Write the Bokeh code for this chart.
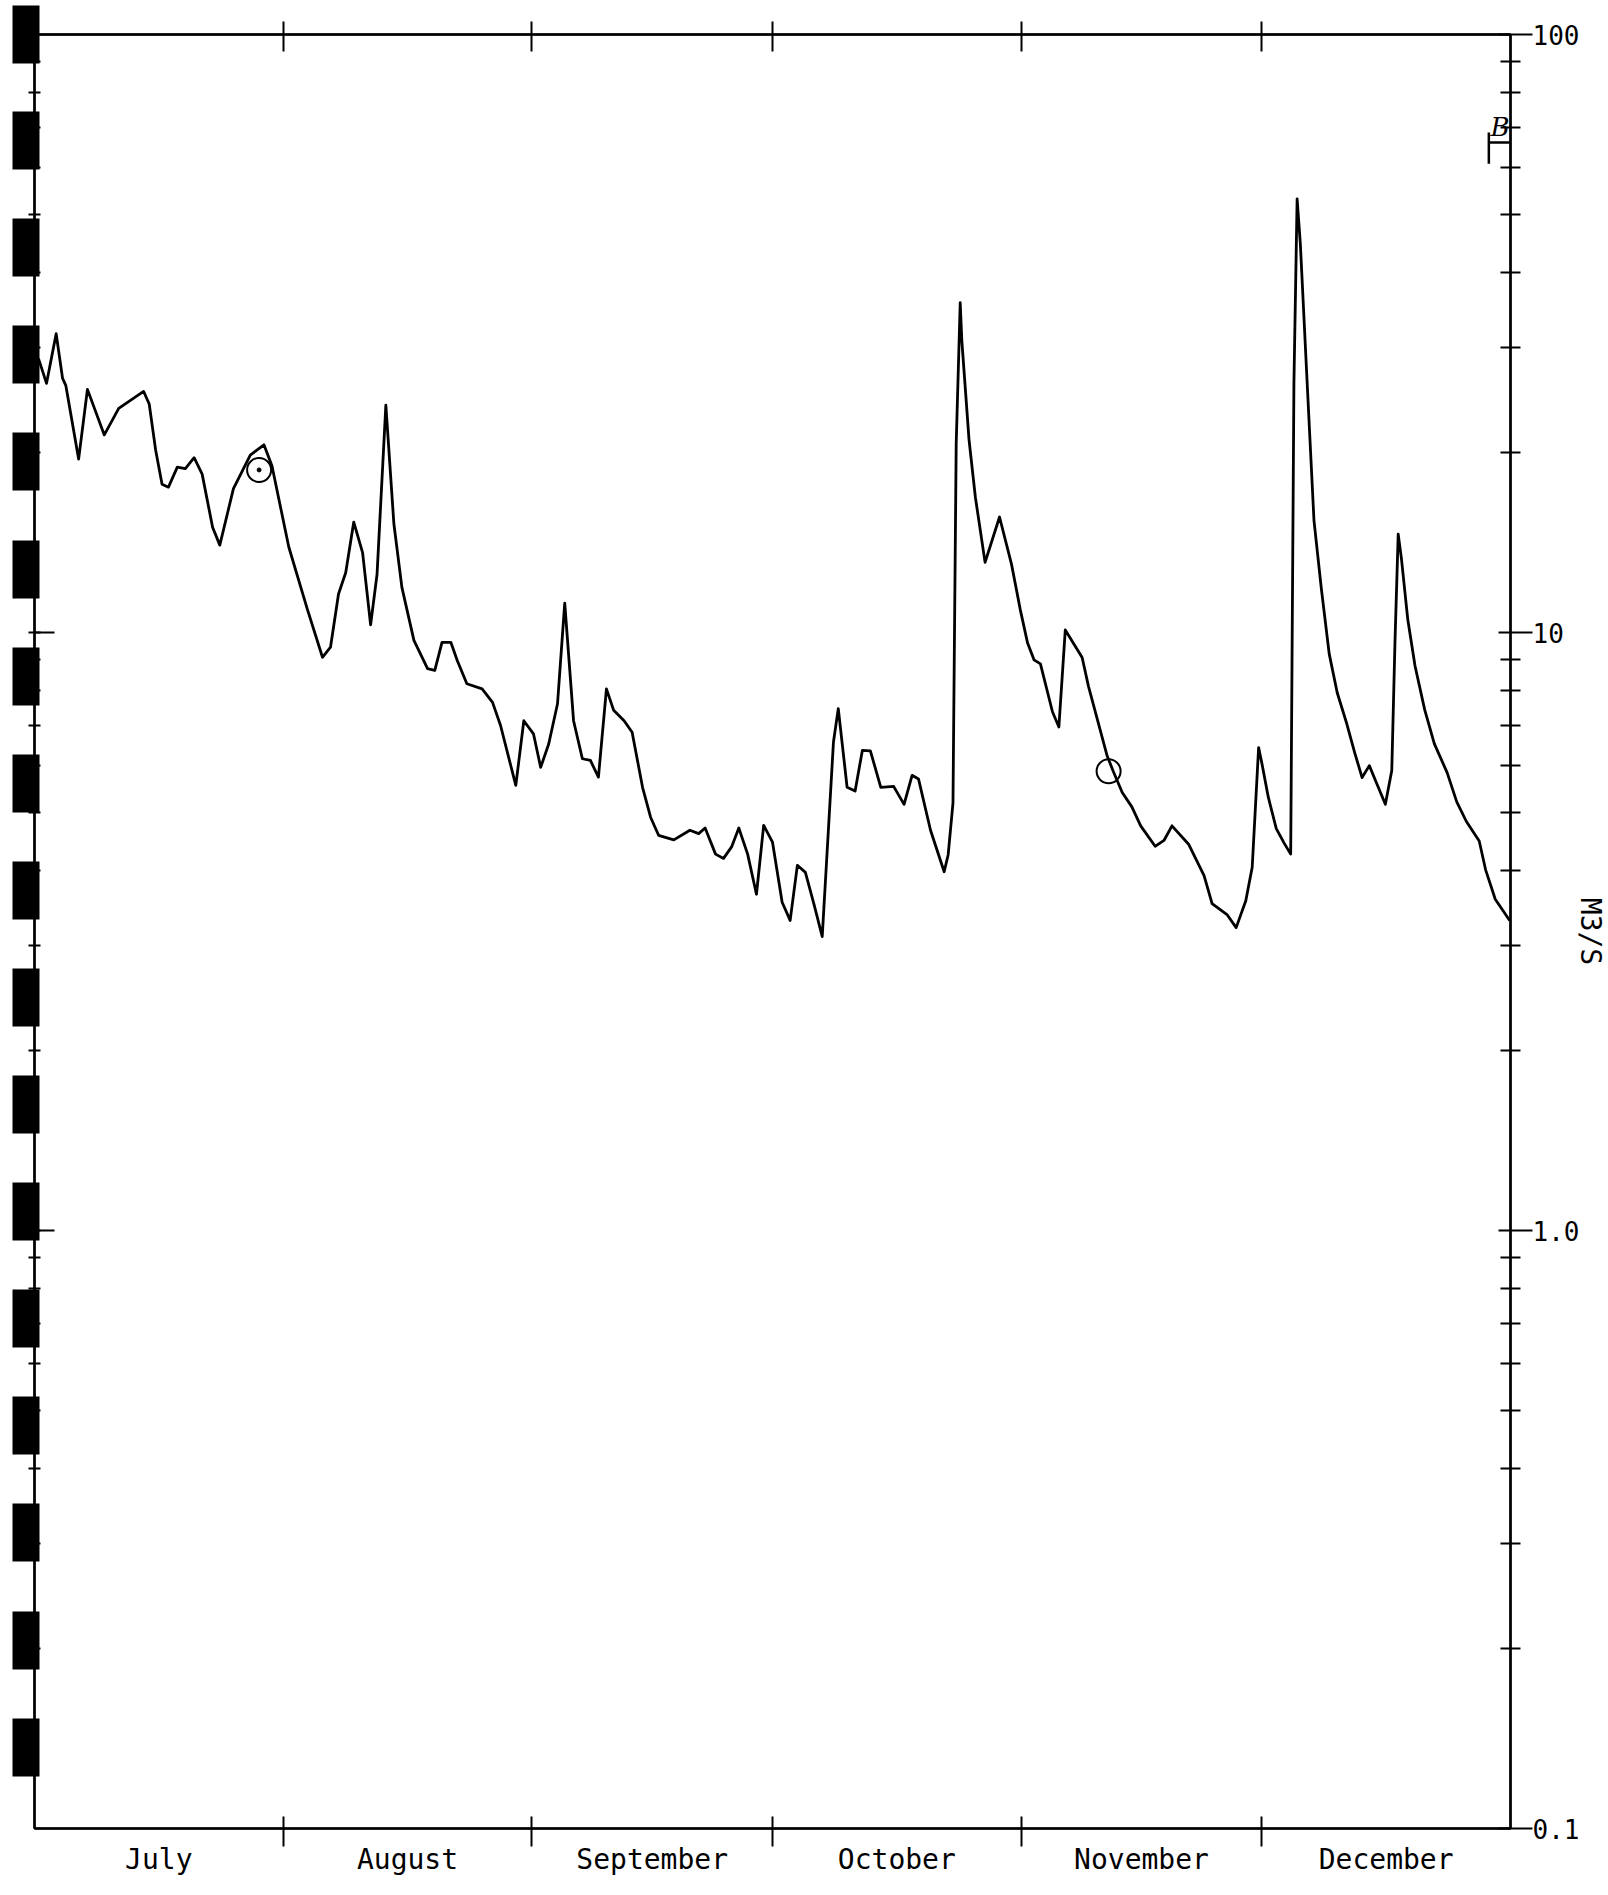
from bokeh.plotting import figure
from bokeh.models import (LogAxis, LinearAxis, FixedTicker, Range1d, Label,
                          CustomJSTickFormatter)
from bokeh.embed import file_html
from bokeh.resources import INLINE

# ---------------- data ----------------
months = ["July", "August", "September", "October", "November", "December"]
month_days = [31, 31, 30, 31, 30, 31]

# day since 1 July (0 = start of July), daily mean discharge in m3/s
day = [
    0.5, 1.5, 2.7, 3.5, 3.9, 5.5, 6.6, 8.7, 10.5, 13.6,
    14.3, 15.1, 15.9, 16.7, 17.8, 18.8, 19.9, 20.9, 22.2, 23.1,
    24.8, 26.9, 28.6, 29.6, 31.7, 34.0, 35.9, 36.9, 37.9, 38.8,
    39.8, 40.9, 41.9, 42.7, 43.8, 44.8, 45.8, 47.3, 49.0, 49.9,
    50.8, 51.9, 52.7, 53.9, 55.8, 57.1, 58.1, 60.0, 61.0, 62.2,
    63.1, 64.1, 65.2, 66.1, 67.2, 68.3, 69.3, 70.3, 71.3, 72.2,
    73.5, 74.5, 75.8, 76.8, 77.8, 79.7, 81.7, 82.8, 83.6, 84.9,
    85.9, 86.9, 87.8, 88.9, 90.0, 90.9, 92.0, 93.2, 94.2, 95.1,
    96.1, 97.2, 98.2, 99.6, 100.2, 101.3, 102.3, 103.2, 104.2, 105.5,
    107.1, 108.4, 109.4, 110.2, 111.7, 113.4, 113.9, 114.5, 114.9, 115.4,
    115.6, 116.5, 117.3, 118.5, 120.3, 121.8, 122.9, 123.8, 124.6, 125.4,
    126.9, 127.7, 128.5, 130.6, 131.4, 133.7, 134.5, 135.6, 136.8, 137.9,
    139.7, 140.8, 141.8, 143.9, 145.8, 146.8, 148.7, 149.8, 151.0, 151.8,
    152.6, 153.0, 153.8, 154.8, 155.8, 156.6, 157.0, 157.4, 157.8, 158.6,
    159.5, 160.4, 161.4, 162.4, 163.6, 164.6, 165.5, 166.4, 167.4, 168.4,
    169.2, 169.6, 170.0, 170.4, 171.2, 172.1, 173.3, 174.5, 176.1, 177.3,
    178.5, 180.1, 180.9, 182.1, 183.9,
]
flow = [
    28.7, 26.1, 31.6, 26.6, 25.9, 19.5, 25.5, 21.4, 23.7, 25.3,
    24.1, 20.2, 17.7, 17.5, 18.9, 18.8, 19.6, 18.4, 15.0, 14.0,
    17.4, 19.8, 20.6, 19.0, 13.9, 10.95, 9.09, 9.45, 11.6, 12.6,
    15.3, 13.6, 10.3, 12.5, 24.0, 15.2, 11.9, 9.70, 8.70, 8.64,
    9.63, 9.63, 8.98, 8.21, 8.05, 7.64, 6.99, 5.55, 7.12, 6.77,
    5.95, 6.51, 7.60, 11.2, 7.12, 6.15, 6.11, 5.73, 8.05, 7.41,
    7.12, 6.81, 5.51, 4.91, 4.58, 4.50, 4.67, 4.61, 4.71, 4.26,
    4.19, 4.38, 4.71, 4.26, 3.65, 4.76, 4.46, 3.54, 3.30, 4.08,
    3.97, 3.50, 3.10, 6.56, 7.46, 5.51, 5.43, 6.35, 6.34, 5.51,
    5.53, 5.16, 5.77, 5.69, 4.67, 3.98, 4.25, 5.19, 20.7, 35.6,
    30.8, 21.0, 16.8, 13.1, 15.6, 13.0, 10.9, 9.60, 9.00, 8.86,
    7.37, 6.95, 10.1, 9.08, 8.12, 6.23, 5.85, 5.40, 5.11, 4.75,
    4.39, 4.49, 4.75, 4.42, 3.92, 3.52, 3.37, 3.21, 3.56, 4.05,
    6.42, 6.05, 5.31, 4.70, 4.44, 4.26, 26.0, 53.1, 44.7, 27.0,
    15.4, 11.9, 9.21, 7.93, 7.03, 6.28, 5.72, 5.99, 5.56, 5.16,
    5.88, 9.65, 14.6, 13.3, 10.5, 8.79, 7.43, 6.52, 5.83, 5.21,
    4.83, 4.48, 4.01, 3.58, 3.30,
]
assert len(day) == len(flow)

decade_ticks = [0.1, 1.0, 10.0, 100.0]
decade_labels = ["0.1", "1.0", "10", "100"]

# hand-drawn pen marks on the sheet
mark_day = [28.0, 133.9]
mark_flow = [18.7, 5.86]
note_text = "B"

# ---------------- derived tick positions ----------------
bounds = [0]
for n in month_days:
    bounds.append(bounds[-1] + n)
mids = [b + n / 2 for b, n in zip(bounds[:-1], month_days)]
log_minor = [m * 10.0 ** e for e in (-1, 0, 1) for m in range(1, 10) if m * 10.0 ** e > 0.1]

# ---------------- layout (pixels) ----------------
FRAME_W, FRAME_H = 1476, 1794
DECADE_PX = FRAME_H / 3.0
PX_PER_DAY = FRAME_W / bounds[-1]
# microfilm sprocket holes along the left margin of the scanned sheet,
# drawn as very wide tick strokes of the left axis
SPROCKET_PITCH, SPROCKET_H, SPROCKET_FIRST = 107.1, 58, -1.0
sprocket_at = []
for k in range(17):
    off = SPROCKET_FIRST + SPROCKET_PITCH * k          # px below frame top
    sprocket_at.append(min(100.0, 10 ** (2 - off / DECADE_PX)))

FONT = "DejaVu Sans Mono"

p = figure(frame_width=FRAME_W, frame_height=FRAME_H,
           x_range=Range1d(0, bounds[-1]), y_range=Range1d(0.1, 100),
           y_axis_type="log", x_axis_location=None, y_axis_location=None,
           toolbar_location=None, output_backend="svg",
           min_border_left=34, min_border_top=34, min_border_bottom=50,
           min_border_right=10,
           background_fill_color="white", border_fill_color="white")
p.xgrid.grid_line_color = None
p.ygrid.grid_line_color = None
p.outline_line_color = "black"
p.outline_line_width = 2

month_fmt = CustomJSTickFormatter(args=dict(mids=mids, names=months), code="""
    let best = 0;
    for (let i = 0; i < mids.length; i++) {
        if (Math.abs(mids[i] - tick) < Math.abs(mids[best] - tick)) best = i;
    }
    return names[best];
""")
decade_fmt = CustomJSTickFormatter(args=dict(vals=decade_ticks, names=decade_labels), code="""
    let best = 0;
    for (let i = 0; i < vals.length; i++) {
        if (Math.abs(Math.log10(vals[i]) - Math.log10(tick)) <
            Math.abs(Math.log10(vals[best]) - Math.log10(tick))) best = i;
    }
    return names[best];
""")
blank_fmt = CustomJSTickFormatter(code="return '';")

# bottom axis: month boundaries as crossing ticks, month names centred
xb = LinearAxis(ticker=FixedTicker(ticks=mids, minor_ticks=bounds[1:-1]),
                formatter=month_fmt,
                major_tick_line_color=None, major_tick_in=0, major_tick_out=0,
                minor_tick_in=12, minor_tick_out=18, minor_tick_line_width=2,
                minor_tick_line_color="black",
                axis_line_width=2.5, axis_line_color="black",
                major_label_text_font=FONT, major_label_text_font_size="28px",
                major_label_text_color="black", major_label_standoff=-4)
p.add_layout(xb, "below")

xt = LinearAxis(ticker=FixedTicker(ticks=[], minor_ticks=bounds[1:-1]),
                formatter=blank_fmt,
                major_tick_line_color=None, major_tick_out=0, major_tick_in=0,
                minor_tick_in=17, minor_tick_out=13, minor_tick_line_width=2,
                minor_tick_line_color="black",
                axis_line_width=2.5, axis_line_color="black",
                major_label_text_font_size="10px", major_label_standoff=0)
p.add_layout(xt, "above")

yr = LogAxis(ticker=FixedTicker(ticks=decade_ticks,
                                minor_ticks=[t for t in log_minor if t not in decade_ticks]),
             formatter=decade_fmt,
             major_tick_in=12, major_tick_out=22, major_tick_line_width=2,
             minor_tick_in=10, minor_tick_out=10, minor_tick_line_width=2,
             axis_line_width=2.5, axis_line_color="black",
             major_label_text_font=FONT, major_label_text_font_size="26px",
             major_label_text_color="black", major_label_standoff=0,
             axis_label="M3/S", axis_label_text_font=FONT,
             axis_label_text_font_size="28px", axis_label_text_font_style="normal",
             axis_label_text_color="black", axis_label_standoff=-8)
p.add_layout(yr, "right")

yl = LogAxis(ticker=FixedTicker(ticks=sprocket_at, minor_ticks=log_minor),
             formatter=blank_fmt,
             major_tick_in=5, major_tick_out=22, major_tick_line_width=SPROCKET_H,
             major_tick_line_cap="butt", major_tick_line_color="black",
             minor_tick_in=6, minor_tick_out=6, minor_tick_line_width=2,
             axis_line_width=2.5, axis_line_color="black",
             major_label_text_font_size="10px", major_label_standoff=0)
p.add_layout(yl, "left")

# inner half of the longer decade ticks on the left margin
inner = 20 / PX_PER_DAY
p.segment(x0=[0, 0], y0=[1.0, 10.0], x1=[inner, inner], y1=[1.0, 10.0],
          line_color="black", line_width=2)

# hydrograph
p.line(day, flow, line_color="black", line_width=2.8, line_join="round")

# pen marks
p.scatter(mark_day, mark_flow, marker="circle", size=24, fill_color=None,
          line_color="black", line_width=2)
p.scatter(mark_day[:1], mark_flow[:1], marker="circle", size=4, color="black")
p.segment(x0=[181.3, 181.3], y0=[60.8, 66.0], x1=[181.3, 184.0], y1=[68.6, 66.0],
          line_color="black", line_width=2.5)
p.add_layout(Label(x=183.9, y=66.0, text=note_text, text_font="DejaVu Serif",
                   text_font_style="italic", text_font_size="26px",
                   text_align="right", text_baseline="bottom", text_color="black"))

open("out.html", "w").write(file_html(p, INLINE))
